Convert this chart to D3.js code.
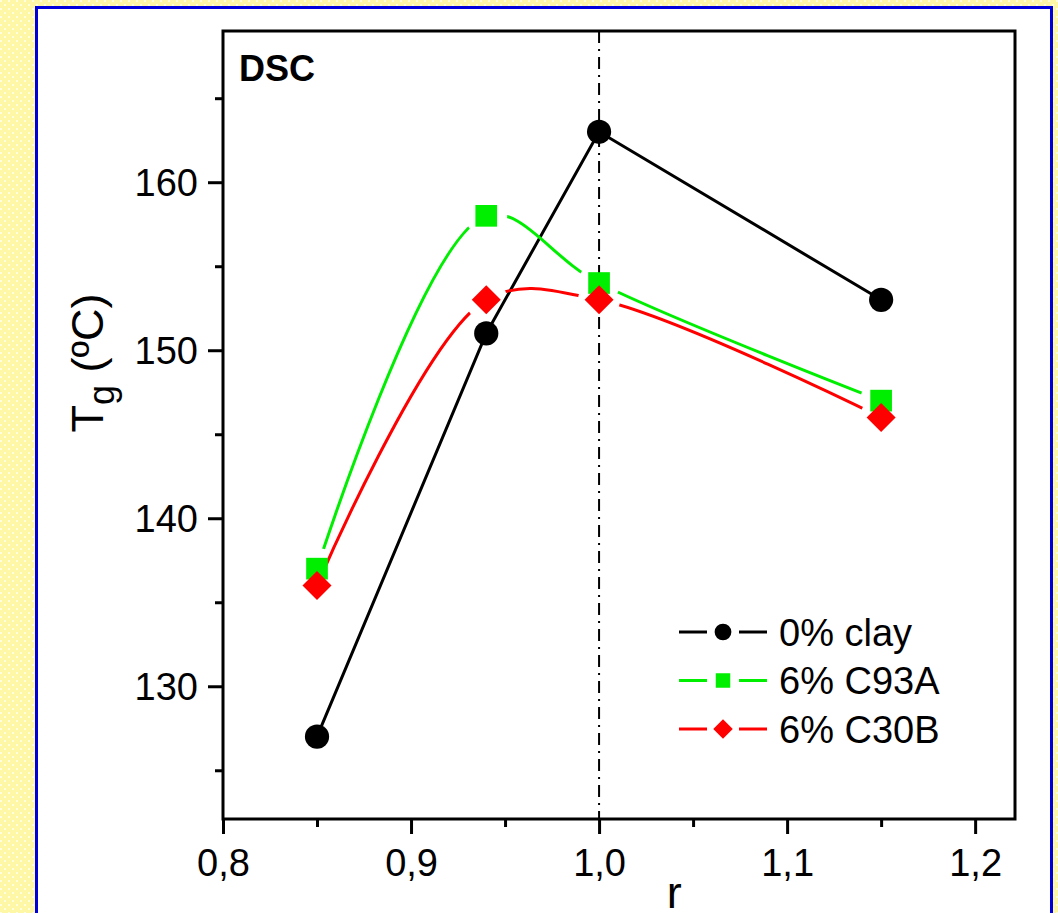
<!DOCTYPE html>
<html>
<head>
<meta charset="utf-8">
<script src="https://cdn.jsdelivr.net/npm/d3@7"></script>
<style>
  html, body { margin: 0; padding: 0; background: #fff; }
  svg { display: block; }
  svg text { font-family: "Liberation Sans", Arial, sans-serif; }
</style>
</head>
<body>
<svg id="chart" width="1058" height="913"></svg>
<script>
// data
var ratios = [0.85, 0.94, 1.00, 1.15];
var clay0 = [127, 151, 163, 153];
var c93a = [137, 158, 154, 147];
var c30b = [136, 153, 153, 146];
var seriesNames = ['0% clay', '6% C93A', '6% C30B'];
var xTicks = [0.8, 0.9, 1.0, 1.1, 1.2];
var yTicks = [130, 140, 150, 160];

var svg = d3.select('#chart');
var W = 1058, H = 913;
var margin = {left: 223, top: 31, right: 1015, bottom: 819};
var font = '"Liberation Sans", Arial, sans-serif';

// yellow textured background + blue frame
var defs = svg.append('defs');
var pat = defs.append('pattern')
    .attr('id', 'tex')
    .attr('width', 8).attr('height', 8)
    .attr('patternUnits', 'userSpaceOnUse');
pat.append('rect').attr('width', 8).attr('height', 8).attr('fill', '#fdf7a6');
pat.append('rect').attr('x', 0).attr('y', 0).attr('width', 2).attr('height', 2).attr('fill', '#fffde0');
pat.append('rect').attr('x', 4).attr('y', 4).attr('width', 2).attr('height', 2).attr('fill', '#fffde0');

svg.append('rect').attr('width', W).attr('height', H).attr('fill', 'url(#tex)');
svg.append('rect')
    .attr('x', 36.5).attr('y', 7.5)
    .attr('width', 1015).attr('height', 920)
    .attr('fill', '#fff')
    .attr('stroke', '#0000dd')
    .attr('stroke-width', 3);

var x = d3.scaleLinear().domain([0.8, 1.2212]).range([margin.left, margin.right]);
var y = d3.scaleLinear().domain([122.1, 169]).range([margin.bottom, margin.top]);

var fmt = function(d) { return d3.format('.1f')(d).replace('.', ','); };

// axes
var xAxis = svg.append('g')
    .attr('transform', 'translate(0,' + margin.bottom + ')')
    .call(d3.axisBottom(x).tickValues(xTicks).tickFormat(fmt).tickSize(15).tickSizeOuter(0));
var xMinor = svg.append('g')
    .attr('transform', 'translate(0,' + margin.bottom + ')')
    .call(d3.axisBottom(x).tickValues([0.85, 0.95, 1.05, 1.15]).tickFormat('').tickSize(8).tickSizeOuter(0));
var yAxis = svg.append('g')
    .attr('transform', 'translate(' + margin.left + ',0)')
    .call(d3.axisLeft(y).tickValues(yTicks).tickFormat(d3.format('d')).tickSize(15).tickSizeOuter(0));
var yMinor = svg.append('g')
    .attr('transform', 'translate(' + margin.left + ',0)')
    .call(d3.axisLeft(y).tickValues([125, 135, 145, 155, 165]).tickFormat('').tickSize(8).tickSizeOuter(0));

[xAxis, xMinor, yAxis, yMinor].forEach(function(a) {
    a.attr('font-family', font);
    a.select('.domain').remove();
    a.selectAll('line').attr('stroke', '#000').attr('stroke-width', 3);
});
xAxis.selectAll('text').attr('font-size', 38).attr('fill', '#000').attr('y', 57).attr('dy', 0);
yAxis.selectAll('text').attr('font-size', 38).attr('fill', '#000').attr('x', -25).attr('dy', '0.36em');

// frame
svg.append('rect')
    .attr('x', margin.left).attr('y', margin.top)
    .attr('width', margin.right - margin.left)
    .attr('height', margin.bottom - margin.top)
    .attr('fill', 'none')
    .attr('stroke', '#000')
    .attr('stroke-width', 3);

// dash-dot reference line at r = 1
svg.append('line')
    .attr('x1', x(1)).attr('x2', x(1))
    .attr('y1', margin.top).attr('y2', margin.bottom)
    .attr('stroke', '#000')
    .attr('stroke-width', 2)
    .attr('stroke-dasharray', '12,6,2,6');

// masks: coloured lines stop short of their markers
function makeMask(id, vals) {
    var m = defs.append('mask').attr('id', id).attr('maskUnits', 'userSpaceOnUse')
        .attr('x', 0).attr('y', 0).attr('width', W).attr('height', H);
    m.append('rect').attr('width', W).attr('height', H).attr('fill', '#fff');
    m.selectAll('circle').data(vals).join('circle')
        .attr('cx', function(d, i) { return x(ratios[i]); })
        .attr('cy', function(d) { return y(d); })
        .attr('r', 21)
        .attr('fill', '#000');
}
makeMask('m93', c93a);
makeMask('m30', c30b);

var line = d3.line()
    .x(function(d, i) { return x(ratios[i]); })
    .y(function(d) { return y(d); });

svg.append('path')
    .attr('d', line.curve(d3.curveLinear)(clay0))
    .attr('fill', 'none').attr('stroke', '#000').attr('stroke-width', 3);
svg.append('path')
    .attr('d', line.curve(d3.curveCatmullRom.alpha(0.5))(c93a))
    .attr('mask', 'url(#m93)')
    .attr('fill', 'none').attr('stroke', '#00ee00').attr('stroke-width', 3);
svg.append('path')
    .attr('d', line.curve(d3.curveCatmullRom.alpha(0.5))(c30b))
    .attr('mask', 'url(#m30)')
    .attr('fill', 'none').attr('stroke', '#ff0000').attr('stroke-width', 3);

var sym = {
    circle: d3.symbol().type(d3.symbolCircle).size(460),
    square: d3.symbol().type(d3.symbolSquare).size(470),
    diamond: d3.symbol().type(d3.symbolSquare).size(420)
};

function drawMarks(vals, shape, color, rot) {
    svg.append('g').selectAll('path').data(vals).join('path')
        .attr('d', sym[shape]())
        .attr('fill', color)
        .attr('transform', function(d, i) {
            return 'translate(' + x(ratios[i]) + ',' + y(d) + ')' + (rot ? ' rotate(45)' : '');
        });
}
drawMarks(clay0, 'circle', '#000', false);
drawMarks(c93a, 'square', '#00ee00', false);
drawMarks(c30b, 'diamond', '#ff0000', true);

// legend
var legend = [
    {name: seriesNames[0], color: '#000', shape: 'circle', rot: false},
    {name: seriesNames[1], color: '#00ee00', shape: 'square', rot: false},
    {name: seriesNames[2], color: '#ff0000', shape: 'diamond', rot: true}
];
var lg = svg.append('g').selectAll('g').data(legend).join('g')
    .attr('transform', function(d, i) { return 'translate(679,' + (632 + i * 48.5) + ')'; });
lg.append('line').attr('x1', 0).attr('x2', 28).attr('stroke', function(d) { return d.color; }).attr('stroke-width', 3);
lg.append('line').attr('x1', 60).attr('x2', 88).attr('stroke', function(d) { return d.color; }).attr('stroke-width', 3);
lg.append('path')
    .attr('d', function(d) {
        var s = {circle: 220, square: 210, diamond: 190}[d.shape];
        return d3.symbol().type(d.shape === 'circle' ? d3.symbolCircle : d3.symbolSquare).size(s)();
    })
    .attr('fill', function(d) { return d.color; })
    .attr('transform', function(d) { return 'translate(44,0)' + (d.rot ? ' rotate(45)' : ''); });
lg.append('text')
    .attr('x', 100).attr('dy', '0.36em')
    .attr('font-size', 38)
    .text(function(d) { return d.name; });

// panel label
svg.append('text')
    .attr('x', 239).attr('y', 81)
    .attr('font-size', 36).attr('font-weight', 'bold')
    .text('DSC');

// axis titles
svg.append('text')
    .attr('x', x(1.04)).attr('y', 908)
    .attr('text-anchor', 'middle')
    .attr('font-size', 45)
    .text('r');

var yt = svg.append('text')
    .attr('transform', 'translate(103,363) rotate(-90)')
    .attr('text-anchor', 'middle')
    .attr('font-size', 45);
yt.append('tspan').text('T');
yt.append('tspan').attr('font-size', 36).attr('dy', 11).text('g');
yt.append('tspan').attr('dy', -11).text(' (ºC)');
</script>
</body>
</html>
